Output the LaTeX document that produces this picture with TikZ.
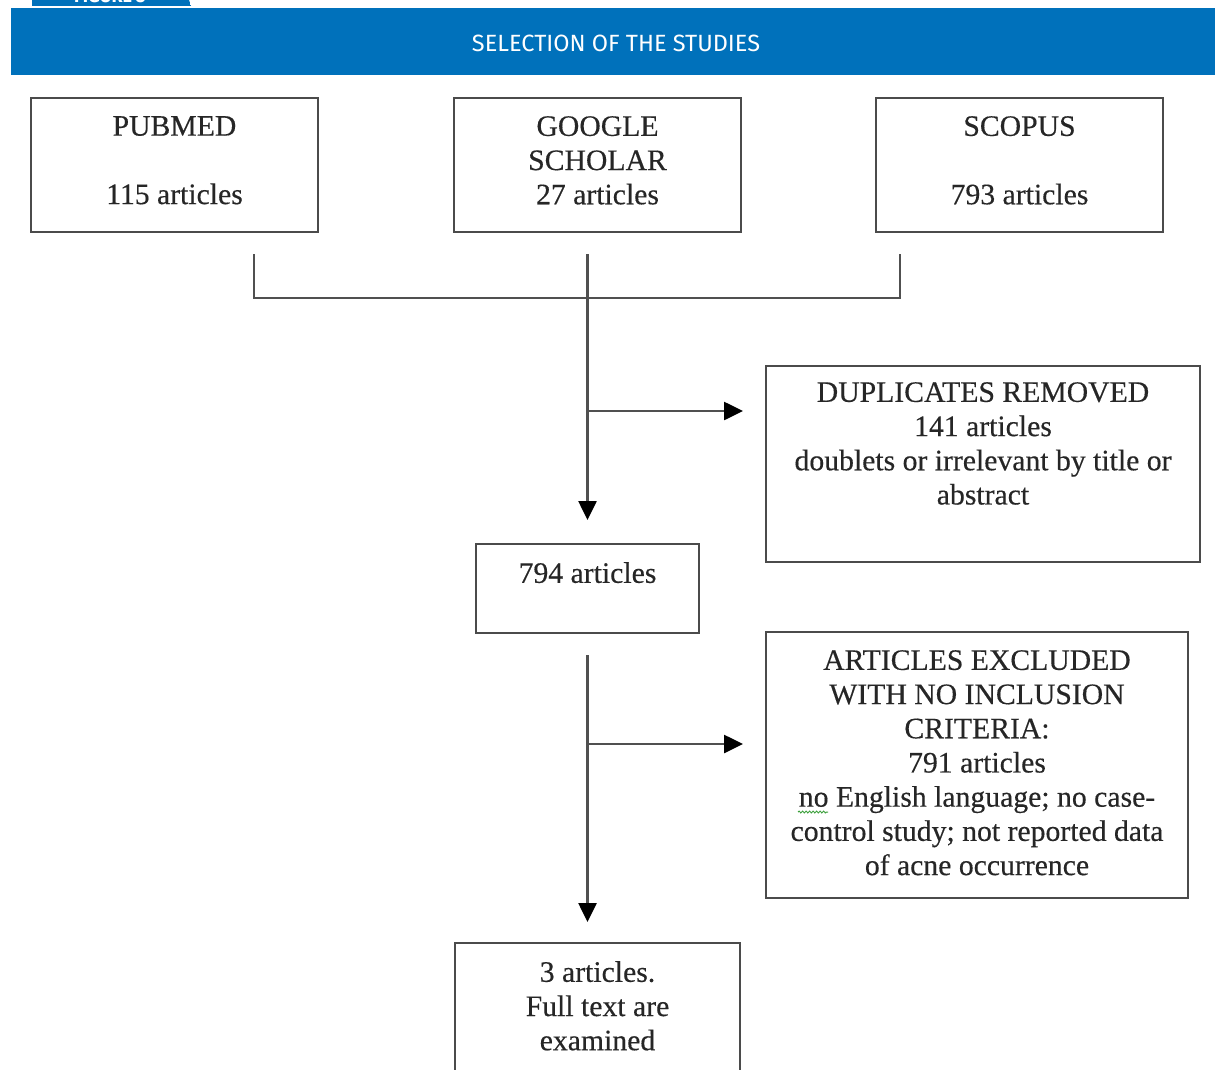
\documentclass[tikz,border=0pt]{standalone}
\usepackage{fontspec}
\setmainfont[FakeBold=0.35]{Liberation Serif}
\newfontfamily\titlefont{Fira Sans}
\usetikzlibrary{arrows.meta,calc,decorations.pathmorphing}
\definecolor{bannerblue}{RGB}{0,113,187}
\definecolor{boxline}{RGB}{75,75,75}
\definecolor{conline}{RGB}{80,80,80}
\definecolor{spellgreen}{RGB}{60,160,60}
\tikzset{
  box/.style={draw=boxline, line width=2.5pt, rectangle, inner sep=0pt, outer sep=0pt, fill=white},
  lab/.style={anchor=north, yshift=-18pt, align=center, inner sep=0pt, text=black!85, font=\fontsize{29.7}{34.2}\selectfont},
  con/.style={draw=conline, line width=2.6pt},
  arr/.style={con, -{Triangle[length=19pt,width=18pt,color=black]}}
}
\begin{document}
\begin{tikzpicture}[x=1pt,y=-1pt]
\useasboundingbox (0,0) rectangle (1215,1070);
\clip (0,0) rectangle (1215,1070);
\fill[white] (0,0) rectangle (1215,1070);
% tab
\begin{scope}
  \clip (32,0) -- (189,0) -- (191,6) -- (32,6) -- cycle;
  \fill[bannerblue] (32,0) -- (189,0) -- (191,6) -- (32,6) -- cycle;
  \node[anchor=base, text=white, font=\titlefont\bfseries\fontsize{18}{20}\selectfont, inner sep=0pt] (tabtext) at (110,3) {FIGURE 3};
\end{scope}
% banner
\fill[bannerblue] (11,8.5) rectangle (1215,75);
\node[text=white, font=\titlefont\fontsize{23.5}{26}\selectfont, inner sep=0pt] (title) at (616,43) {SELECTION OF THE STUDIES};

% boxes
\node[box, minimum width=287pt, minimum height=134pt, label={[lab]north:PUBMED\\\mbox{}\\115 articles}] (pubmed) at (174.5,165) {};
\node[box, minimum width=287pt, minimum height=134pt, label={[lab]north:GOOGLE\\SCHOLAR\\27 articles}] (google) at (597.5,165) {};
\node[box, minimum width=287pt, minimum height=134pt, label={[lab]north:SCOPUS\\\mbox{}\\793 articles}] (scopus) at (1019.5,165) {};
\node[box, minimum width=434pt, minimum height=196pt, label={[lab,yshift=2pt]north:DUPLICATES REMOVED\\141 articles\\doublets or irrelevant by title or\\abstract}] (dup) at (983,464) {};
\node[box, minimum width=223pt, minimum height=89pt, label={[lab]north:794 articles}] (n794) at (587.5,588.5) {};
\node[box, minimum width=422pt, minimum height=266pt, label={[lab]north:ARTICLES EXCLUDED\\WITH NO INCLUSION\\CRITERIA:\\791 articles\\no English language; no case-\\control study; not reported data\\of acne occurrence}] (excl) at (977,765) {};
\node[box, minimum width=285pt, minimum height=157pt, label={[lab]north:3 articles.\\Full text are\\examined}] (n3) at (597.5,1021.5) {};

% spell-check underline
\draw[spellgreen, line width=1pt, decorate, decoration={snake, amplitude=0.9pt, segment length=3.5pt}] (798,812) -- (828,812);

% connectors
\coordinate (pl) at ($(pubmed.south east)+(-64,22)$);
\coordinate (sr) at ($(scopus.south west)+(24,22)$);
\coordinate (jl) at (pl |- 0,298);
\coordinate (jr) at (sr |- 0,298);
\draw[con] (pl) -- (jl) -- (jr) -- (sr);
\coordinate (mtop) at (n794.north |- pl);
\draw[arr, shorten >=24pt] (mtop) -- (n794.north);
\coordinate (b1) at (n794.north |- 0,411);
\draw[arr, shorten >=23pt] (b1) -- (b1 -| dup.west);
\coordinate (m2) at ($(n794.south)+(0,22)$);
\draw[arr, shorten >=21pt] (m2) -- (m2 |- n3.north);
\coordinate (b2) at (n794.north |- 0,744);
\draw[arr, shorten >=23pt] (b2) -- (b2 -| excl.west);
\end{tikzpicture}
\end{document}
